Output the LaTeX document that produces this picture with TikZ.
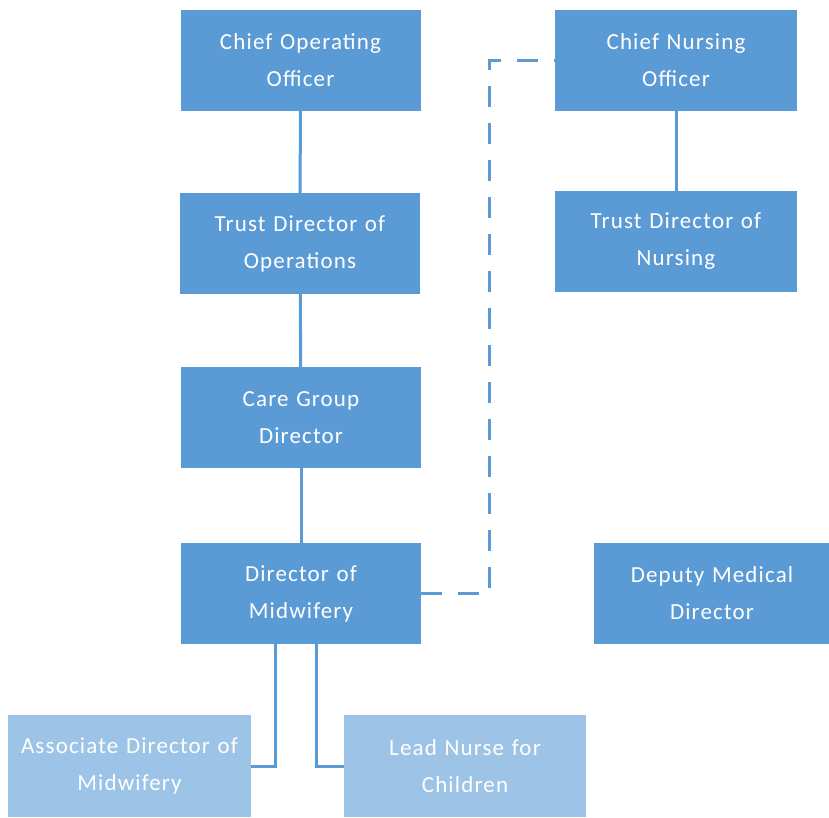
\documentclass[tikz,border=0pt]{standalone}
\usepackage{fontspec}
\setmainfont{Carlito}[LetterSpace=5]
\usepackage{tikz}
\usetikzlibrary{calc}

\definecolor{boxblue}{HTML}{5B9BD5}
\definecolor{lightblue}{HTML}{9DC3E6}

\begin{document}
\begin{tikzpicture}[
    x=1pt, y=-1pt,
    box/.style={rectangle, fill=boxblue, text=white, minimum width=240pt, minimum height=101pt, inner sep=0pt, text width=236pt, align=center, font=\fontsize{23}{37}\selectfont},
    subbox/.style={box, fill=lightblue},
    link/.style={draw=boxblue, line width=3pt},
    dotted link/.style={link, dash pattern=on 21pt off 16pt}
]
    \useasboundingbox (0,0) rectangle (829,817);

    \node[box] (coo) at (300.5,60.5) {Chief Operating\\Officer};
    \node[box, minimum width=242pt] (cno) at (676,60.5) {Chief Nursing\\Officer};
    \node[box] (tdo) at (300,243.5) {Trust Director of\\Operations};
    \node[box, minimum width=242pt] (tdn) at (676,241.5) {Trust Director of\\Nursing};
    \node[box] (cgd) at (301,417.5) {Care Group\\Director};
    \node[box] (dom) at (301,593.5) {Director of\\Midwifery};
    \node[box, minimum width=234pt] (dmd) at (712,593.5) {Deputy Medical\\Director};
    \node[subbox, minimum width=243pt, minimum height=102pt] (adm) at (129.5,766) {Associate Director of\\Midwifery};
    \node[subbox, minimum width=242pt, minimum height=102pt] (lnc) at (465,766) {Lead Nurse for\\Children};

    \draw[link] (coo) -- (tdo);
    \draw[link] (tdo) -- (cgd);
    \draw[link] (cgd) -- (dom);
    \draw[link] (cno) -- (tdn);
    \draw[dotted link] (dom.east) -- ++(68,0) |- (cno.west);
    \draw[link] ($(dom.south)+(-26,0)$) |- (adm.east);
    \draw[link] ($(dom.south)+(15,0)$) |- (lnc.west);
\end{tikzpicture}
\end{document}
